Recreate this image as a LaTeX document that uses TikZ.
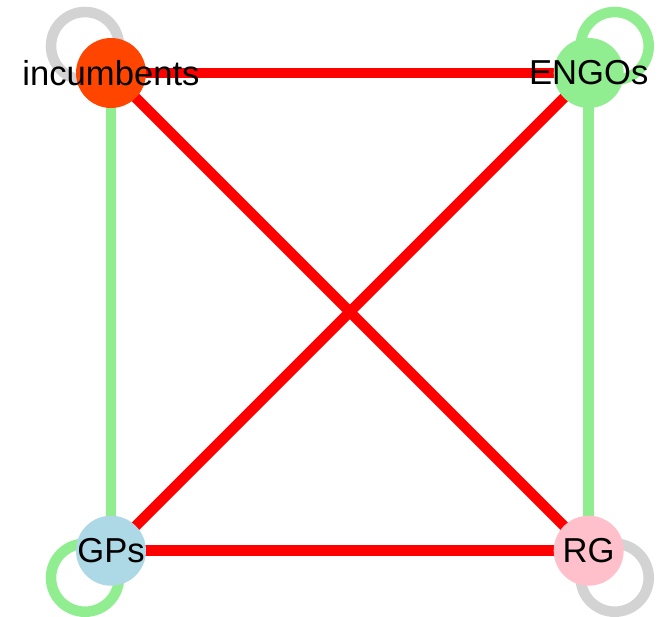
\documentclass[tikz,border=0pt]{standalone}
\usepackage{fontspec}
\setmainfont{Liberation Sans}
\usepackage{tikz}
\usetikzlibrary{positioning,calc,backgrounds}
\definecolor{orangered}{HTML}{FF4500}
\definecolor{lgreen}{HTML}{90EE90}
\definecolor{lblue}{HTML}{ADD8E6}
\definecolor{lpink}{HTML}{FFC0CB}
\definecolor{lgray}{HTML}{D3D3D3}
\definecolor{tiered}{HTML}{FF0000}

\begin{document}
\begin{tikzpicture}[
  actor/.style={circle, inner sep=0pt, minimum size=1.4cm,
    label={[font=\fontsize{19.7}{23}\selectfont, text=black]center:#1}},
  tie/.style={line width=6pt, draw=#1},
  selfloop/.style={line width=6pt, draw=#1},
  node distance=8.14cm
]
\useasboundingbox (0,0) rectangle (13.16,-12.32);
\node[actor=incumbents, fill=orangered] (incumbents) at (2.22,-1.46) {};
\node[actor=ENGOs, fill=lgreen, right=of incumbents] (engos) {};
\node[actor=GPs, fill=lblue, below=of incumbents] (gps) {};
\node[actor=RG, fill=lpink, right=of gps] (rg) {};
\begin{scope}[on background layer]
  \draw[selfloop=lgray] ($(incumbents)+(-0.52,0.54)$) circle (0.68);
  \draw[selfloop=lgreen] ($(engos)+(0.52,0.54)$) circle (0.68);
  \draw[selfloop=lgreen] ($(gps)+(-0.52,-0.54)$) circle (0.68);
  \draw[selfloop=lgray] ($(rg)+(0.52,-0.54)$) circle (0.68);
  \foreach \a/\b/\c in {incumbents/gps/lgreen, engos/rg/lgreen,
    incumbents/engos/tiered, gps/rg/tiered, incumbents/rg/tiered,
    engos/gps/tiered}
    \draw[tie=\c] (\a.center) -- (\b.center);
\end{scope}
\end{tikzpicture}
\end{document}
